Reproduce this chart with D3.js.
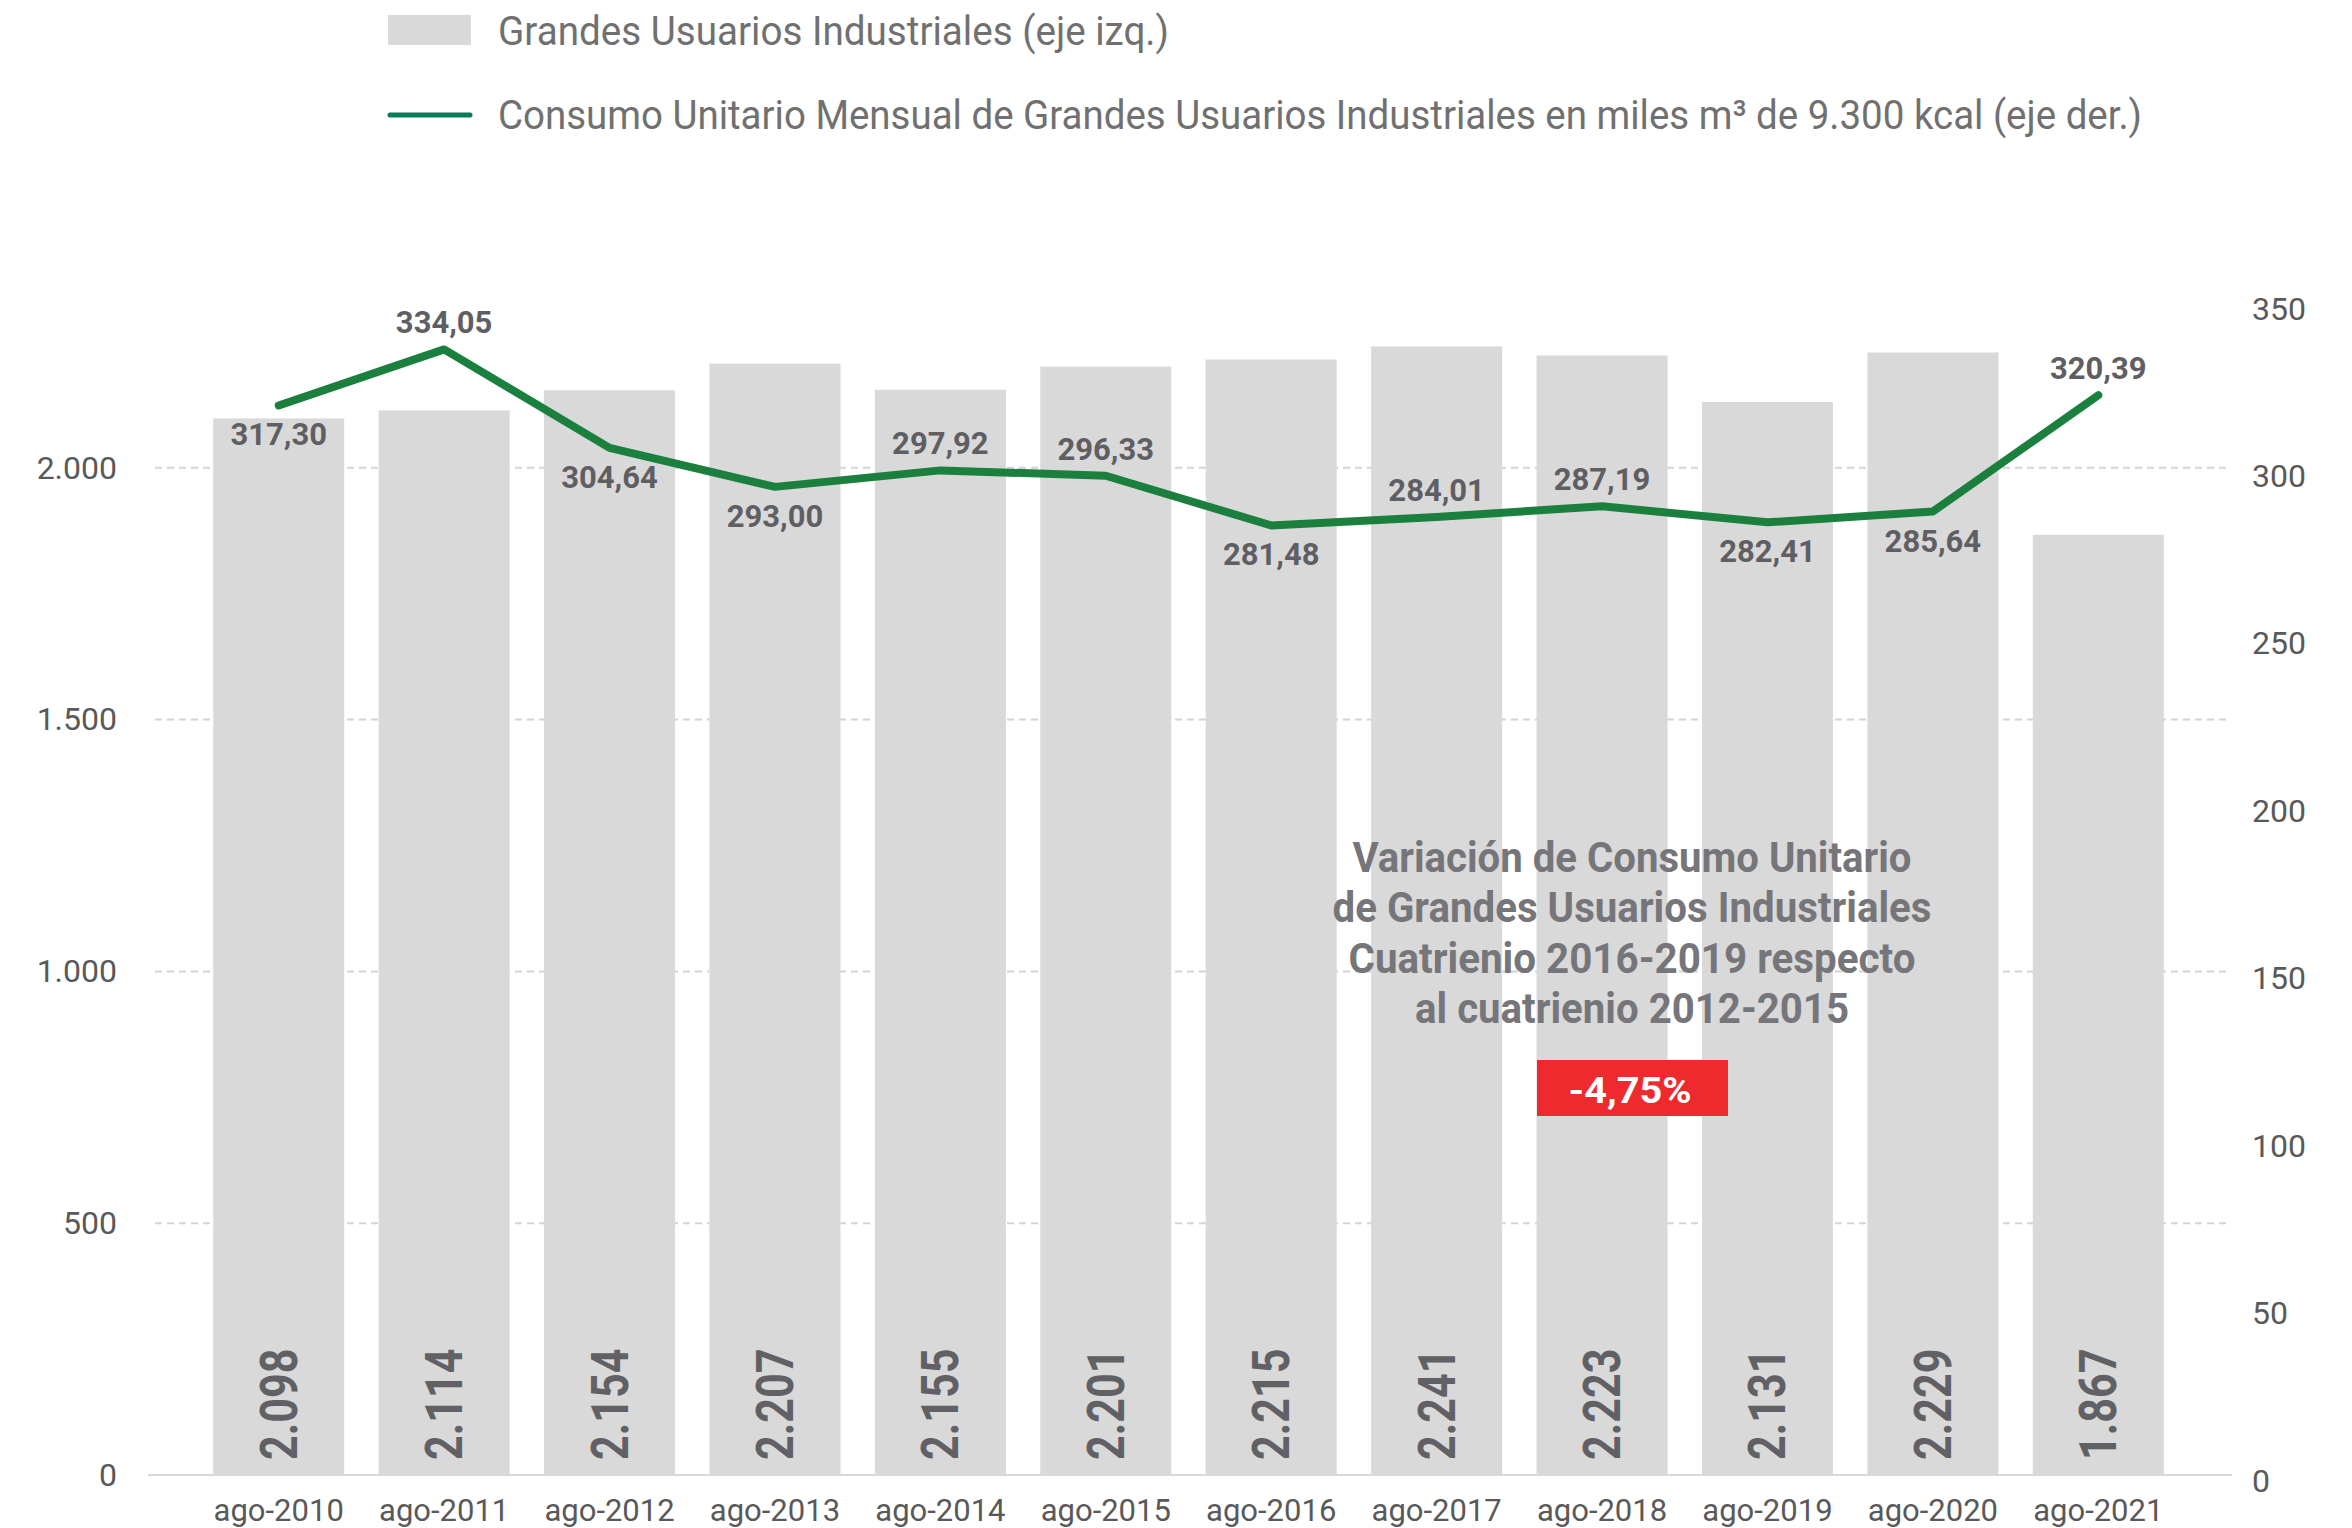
<!DOCTYPE html>
<html>
<head>
<meta charset="utf-8">
<script src="https://cdn.jsdelivr.net/npm/d3@7"></script>
<style>
  body { margin: 0; background: #fff; }
  svg { display: block; font-family: Roboto, "Noto Sans", sans-serif; }
</style>
</head>
<body>
<svg id="chart" width="2352" height="1528"></svg>
<script>
  // data
  const periods = ["ago-2010", "ago-2011", "ago-2012", "ago-2013", "ago-2014", "ago-2015",
                   "ago-2016", "ago-2017", "ago-2018", "ago-2019", "ago-2020", "ago-2021"];
  const usuarios = [2098, 2114, 2154, 2207, 2155, 2201, 2215, 2241, 2223, 2131, 2229, 1867];
  const consumo = [317.30, 334.05, 304.64, 293.00, 297.92, 296.33, 281.48, 284.01, 287.19, 282.41, 285.64, 320.39];
  const leftTicks = [0, 500, 1000, 1500, 2000];
  const rightTicks = [0, 50, 100, 150, 200, 250, 300, 350];
  const seriesNames = [
    "Grandes Usuarios Industriales (eje izq.)",
    "Consumo Unitario Mensual de Grandes Usuarios Industriales en miles m³ de 9.300 kcal (eje der.)"
  ];
  const noteLines = [
    "Variación de Consumo Unitario",
    "de Grandes Usuarios Industriales",
    "Cuatrienio 2016-2019 respecto",
    "al cuatrienio 2012-2015"
  ];
  const noteVariation = -4.75;

  const es = d3.formatLocale({ decimal: ",", thousands: ".", grouping: [3], currency: ["", ""], minus: "-" });
  const fmtInt = es.format(",d");
  const fmtDec = es.format(".2f");

  const svg = d3.select("#chart");

  const x = d3.scaleBand()
    .domain(periods)
    .range([196, 2181])
    .paddingInner(0.208)
    .paddingOuter(0.104);
  const yL = d3.scaleLinear().domain([0, 2500]).range([1475, 216]);
  const yR = d3.scaleLinear().domain([0, 350]).range([1468, 296]);
  const cx = d => x(d) + x.bandwidth() / 2;

  // gridlines
  svg.append("g")
    .selectAll("line")
    .data(leftTicks.filter(d => d > 0))
    .join("line")
    .attr("x1", 155).attr("x2", 2231)
    .attr("y1", d => yL(d)).attr("y2", d => yL(d))
    .attr("stroke", "#d4d4d4")
    .attr("stroke-width", 2)
    .attr("stroke-dasharray", "7 5");

  // bars
  svg.append("g")
    .selectAll("rect")
    .data(usuarios)
    .join("rect")
    .attr("x", (d, i) => x(periods[i]))
    .attr("y", d => yL(d))
    .attr("width", x.bandwidth())
    .attr("height", d => yL(0) - yL(d))
    .attr("fill", "#d9d9d9");

  // baseline
  svg.append("line")
    .attr("x1", 148).attr("x2", 2232)
    .attr("y1", yL(0)).attr("y2", yL(0))
    .attr("stroke", "#d9d9d9")
    .attr("stroke-width", 2);

  // axes
  const axL = svg.append("g")
    .attr("transform", "translate(117,0)")
    .call(d3.axisLeft(yL).tickValues(leftTicks).tickFormat(fmtInt).tickSize(0).tickPadding(0));
  const axR = svg.append("g")
    .attr("transform", "translate(2252,0)")
    .call(d3.axisRight(yR).tickValues(rightTicks).tickFormat(fmtInt).tickSize(0).tickPadding(0));
  axR.selectAll("text").attr("dy", "0.72em");
  const axB = svg.append("g")
    .attr("transform", "translate(0,1484)")
    .call(d3.axisBottom(x).tickSize(0).tickPadding(0));
  axB.selectAll("text").attr("dy", "1.18em").attr("font-size", 31);
  [axL, axR].forEach(a => a.selectAll("text").attr("font-size", 32));
  [axL, axR, axB].forEach(a => {
    a.select(".domain").remove();
    a.selectAll("text").attr("fill", "#595959").attr("font-family", "Roboto");
  });

  // vertical value labels in bars
  svg.append("g")
    .selectAll("text")
    .data(usuarios)
    .join("text")
    .attr("transform", (d, i) => `translate(${cx(periods[i]) + 18},1460) rotate(-90) scale(0.83,1)`)
    .attr("font-size", 52)
    .attr("font-weight", 700)
    .attr("fill", "#616165")
    .text(d => fmtInt(d));

  // line
  const line = d3.line()
    .x((d, i) => cx(periods[i]))
    .y(d => yR(d));
  svg.append("path")
    .datum(consumo)
    .attr("d", line)
    .attr("fill", "none")
    .attr("stroke", "#1b7f3d")
    .attr("stroke-width", 8)
    .attr("stroke-linecap", "round")
    .attr("stroke-linejoin", "round");

  // line labels
  const below = [true, false, true, true, false, false, true, false, false, true, true, false];
  svg.append("g")
    .selectAll("text")
    .data(consumo)
    .join("text")
    .attr("x", (d, i) => cx(periods[i]))
    .attr("y", (d, i) => yR(d) + (below[i] ? 40 : -16))
    .attr("text-anchor", "middle")
    .attr("font-size", 31)
    .attr("font-weight", 700)
    .attr("fill", "#5f5f63")
    .text(d => fmtDec(d));

  // legend
  const legend = svg.append("g");
  legend.append("rect")
    .attr("x", 388).attr("y", 15).attr("width", 83).attr("height", 30)
    .attr("fill", "#d9d9d9");
  legend.append("line")
    .attr("x1", 390).attr("x2", 470).attr("y1", 115).attr("y2", 115)
    .attr("stroke", "#0b7a58").attr("stroke-width", 5).attr("stroke-linecap", "round");
  legend.selectAll("text")
    .data(seriesNames)
    .join("text")
    .attr("x", 498)
    .attr("y", (d, i) => i === 0 ? 45 : 129)
    .attr("font-size", 41)
    .attr("fill", "#707070")
    .attr("textLength", (d, i) => i === 0 ? 671 : 1644)
    .attr("lengthAdjust", "spacingAndGlyphs")
    .text(d => d);

  // annotation
  const noteWidths = [559, 599, 567, 434];
  svg.append("g")
    .selectAll("text")
    .data(noteLines)
    .join("text")
    .attr("x", (d, i) => 1632 - noteWidths[i] / 2)
    .attr("y", (d, i) => 872 + i * 50.3)
    .attr("font-size", 42)
    .attr("font-weight", 700)
    .attr("fill", "#76767a")
    .attr("textLength", (d, i) => noteWidths[i])
    .attr("lengthAdjust", "spacingAndGlyphs")
    .text(d => d);
  svg.append("rect")
    .attr("x", 1537).attr("y", 1060).attr("width", 191).attr("height", 56)
    .attr("fill", "#ee2a2e");
  svg.append("text")
    .attr("x", 1630 - 61.5).attr("y", 1103)
    .attr("font-size", 37)
    .attr("font-weight", 700)
    .attr("fill", "#fff")
    .attr("textLength", 123)
    .attr("lengthAdjust", "spacingAndGlyphs")
    .text(fmtDec(noteVariation) + "%");
</script>
</body>
</html>
